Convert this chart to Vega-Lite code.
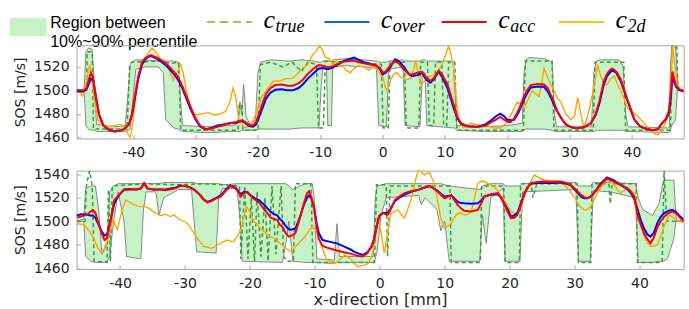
{
  "$schema": "https://vega.github.io/schema/vega-lite/v6.json",
  "padding": {"left": 9.6, "top": 0, "right": 0, "bottom": 0},
  "bounds": "flush",
  "spacing": 31.3,
  "config": {
    "font": "DejaVu Sans",
    "view": {"stroke": "#a8a8a8", "strokeWidth": 1},
    "axis": {"labelFont": "DejaVu Sans", "labelFontSize": 14, "labelColor": "#262626", "titleFont": "DejaVu Sans", "titleFontSize": 14, "titleFontWeight": "normal", "titleColor": "#262626", "domain": false, "grid": false, "tickColor": "#a8a8a8", "tickSize": -4, "labelPadding": 11.5, "labelOverlap": false, "labelExpr": "'' + datum.value", "tickCount": 20}
  },
  "datasets": {
    "legend": [
      {"item": "region", "label": ["Region between", "10%~90% percentile"]},
      {"item": "true", "c": "c", "sub": "true"},
      {"item": "over", "c": "c", "sub": "over"},
      {"item": "acc", "c": "c", "sub": "acc"},
      {"item": "2d", "c": "c", "sub": "2d"}
    ],
    "aB": [
      {"x":-49.1,"lo":1500,"hi":1500},{"x":-47.9,"lo":1500,"hi":1500},{"x":-47.6,"lo":1470,"hi":1533},{"x":-47.2,"lo":1467,"hi":1536},{"x":-46.6,"lo":1466,"hi":1535},{"x":-46.2,"lo":1466,"hi":1500},{"x":-45.9,"lo":1465,"hi":1471},{"x":-43,"lo":1465,"hi":1469},{"x":-41.3,"lo":1465,"hi":1470},{"x":-40.8,"lo":1466,"hi":1500},{"x":-40.5,"lo":1467,"hi":1522},{"x":-40.1,"lo":1490,"hi":1525},{"x":-39.6,"lo":1518,"hi":1526},{"x":-38,"lo":1520,"hi":1526},{"x":-36,"lo":1520,"hi":1525},{"x":-35.2,"lo":1515,"hi":1526},{"x":-34.8,"lo":1475,"hi":1525},{"x":-33.5,"lo":1468,"hi":1525},{"x":-32.8,"lo":1467,"hi":1524},{"x":-32.4,"lo":1466,"hi":1490},{"x":-32.1,"lo":1465,"hi":1470},{"x":-28,"lo":1464,"hi":1469},{"x":-24,"lo":1465,"hi":1470},{"x":-23.2,"lo":1465,"hi":1472},{"x":-22.9,"lo":1465,"hi":1490},{"x":-22.6,"lo":1466,"hi":1480},{"x":-22.3,"lo":1466,"hi":1505},{"x":-21.9,"lo":1466,"hi":1478},{"x":-21.2,"lo":1466,"hi":1470},{"x":-20.4,"lo":1466,"hi":1475},{"x":-20,"lo":1467,"hi":1515},{"x":-19.6,"lo":1467,"hi":1524},{"x":-18,"lo":1467,"hi":1526},{"x":-15,"lo":1467,"hi":1525},{"x":-13,"lo":1468,"hi":1526},{"x":-11,"lo":1468,"hi":1525},{"x":-10.2,"lo":1468,"hi":1524},{"x":-9.9,"lo":1500,"hi":1524},{"x":-9.6,"lo":1520,"hi":1525},{"x":-9,"lo":1520,"hi":1525},{"x":-8.8,"lo":1470,"hi":1525},{"x":-8.2,"lo":1470,"hi":1525},{"x":-8,"lo":1520,"hi":1526},{"x":-6,"lo":1521,"hi":1527},{"x":-3,"lo":1520,"hi":1526},{"x":-1,"lo":1519,"hi":1525},{"x":-0.6,"lo":1470,"hi":1524},{"x":0.6,"lo":1469,"hi":1524},{"x":1,"lo":1518,"hi":1525},{"x":3.3,"lo":1520,"hi":1526},{"x":3.6,"lo":1470,"hi":1525},{"x":6,"lo":1469,"hi":1525},{"x":6.4,"lo":1515,"hi":1526},{"x":6.8,"lo":1515,"hi":1526},{"x":7.1,"lo":1470,"hi":1525},{"x":11.3,"lo":1468,"hi":1525},{"x":11.6,"lo":1468,"hi":1500},{"x":11.9,"lo":1466,"hi":1470},{"x":16,"lo":1465,"hi":1469},{"x":20,"lo":1465,"hi":1470},{"x":22.4,"lo":1465,"hi":1472},{"x":22.7,"lo":1466,"hi":1515},{"x":23,"lo":1467,"hi":1526},{"x":23.5,"lo":1467,"hi":1528},{"x":26,"lo":1467,"hi":1527},{"x":27.2,"lo":1466,"hi":1524},{"x":27.6,"lo":1465,"hi":1480},{"x":27.9,"lo":1465,"hi":1469},{"x":33.5,"lo":1465,"hi":1469},{"x":33.9,"lo":1465,"hi":1515},{"x":34.3,"lo":1466,"hi":1525},{"x":35,"lo":1466,"hi":1526},{"x":38,"lo":1466,"hi":1526},{"x":38.6,"lo":1466,"hi":1520},{"x":39,"lo":1465,"hi":1480},{"x":39.4,"lo":1465,"hi":1469},{"x":46,"lo":1464,"hi":1468},{"x":46.2,"lo":1466,"hi":1520},{"x":46.4,"lo":1470,"hi":1538},{"x":47,"lo":1475,"hi":1537},{"x":47.3,"lo":1500,"hi":1510},{"x":47.5,"lo":1500,"hi":1500},{"x":48.3,"lo":1500,"hi":1500}
    ],
    "aT": [
      {"x":-49.1,"y":1500},{"x":-47.5,"y":1500},{"x":-47.4,"y":1533},{"x":-46.6,"y":1533},{"x":-46.4,"y":1467},{"x":-41,"y":1467},{"x":-40.6,"y":1520},{"x":-40.3,"y":1524},{"x":-36,"y":1525},{"x":-34,"y":1523},{"x":-32.7,"y":1524},{"x":-32.4,"y":1466},{"x":-23.2,"y":1466},{"x":-23,"y":1488},{"x":-22.6,"y":1488},{"x":-22.4,"y":1466},{"x":-20,"y":1466},{"x":-19.6,"y":1522},{"x":-18,"y":1524},{"x":-16,"y":1520},{"x":-14.5,"y":1524},{"x":-13,"y":1516},{"x":-12,"y":1524},{"x":-10.6,"y":1522},{"x":-10.3,"y":1468},{"x":-9.5,"y":1468},{"x":-9.2,"y":1525},{"x":-7.5,"y":1524},{"x":-5,"y":1526},{"x":-2,"y":1523},{"x":-0.2,"y":1522},{"x":0.1,"y":1468},{"x":0.9,"y":1468},{"x":1.2,"y":1524},{"x":3.5,"y":1524},{"x":3.8,"y":1468},{"x":5.8,"y":1468},{"x":6.1,"y":1524},{"x":7.2,"y":1524},{"x":7.5,"y":1470},{"x":8.2,"y":1470},{"x":8.5,"y":1524},{"x":9.5,"y":1524},{"x":9.8,"y":1470},{"x":10.3,"y":1470},{"x":10.6,"y":1524},{"x":11.6,"y":1524},{"x":11.9,"y":1466},{"x":22.6,"y":1466},{"x":22.9,"y":1525},{"x":27.2,"y":1525},{"x":27.5,"y":1466},{"x":33.8,"y":1466},{"x":34.1,"y":1524},{"x":38.7,"y":1524},{"x":39,"y":1466},{"x":46.2,"y":1466},{"x":46.4,"y":1537},{"x":47.2,"y":1537},{"x":47.4,"y":1500},{"x":48.3,"y":1500}
    ],
    "aO": [
      {"x":-49.1,"y":1499},{"x":-48,"y":1499},{"x":-47.5,"y":1501},{"x":-47.1,"y":1506},{"x":-46.8,"y":1510},{"x":-46.4,"y":1508},{"x":-46,"y":1494},{"x":-45.5,"y":1479},{"x":-44.8,"y":1470},{"x":-44,"y":1466.5},{"x":-43,"y":1465},{"x":-42.2,"y":1465.5},{"x":-41.5,"y":1467},{"x":-40.7,"y":1471},{"x":-40.2,"y":1479},{"x":-39.7,"y":1495},{"x":-39.2,"y":1510},{"x":-38.6,"y":1522},{"x":-38,"y":1527},{"x":-37.2,"y":1529.5},{"x":-36.3,"y":1527},{"x":-35.5,"y":1524.5},{"x":-34.8,"y":1521.5},{"x":-34,"y":1517},{"x":-33.2,"y":1512},{"x":-32.5,"y":1506},{"x":-32,"y":1500},{"x":-31.4,"y":1492},{"x":-30.8,"y":1484},{"x":-30,"y":1475},{"x":-29.3,"y":1469.5},{"x":-28.6,"y":1467},{"x":-28.2,"y":1467},{"x":-27.5,"y":1468},{"x":-26.5,"y":1470},{"x":-25.5,"y":1471},{"x":-24.5,"y":1472},{"x":-23.5,"y":1472.5},{"x":-22.6,"y":1474},{"x":-22,"y":1472},{"x":-21.4,"y":1469.5},{"x":-20.8,"y":1469},{"x":-20.3,"y":1471},{"x":-19.7,"y":1479},{"x":-19.2,"y":1486},{"x":-18.7,"y":1493},{"x":-18,"y":1498},{"x":-17.2,"y":1500.5},{"x":-16.2,"y":1501},{"x":-15.2,"y":1500},{"x":-14.4,"y":1500},{"x":-13.5,"y":1502},{"x":-12.8,"y":1505},{"x":-12,"y":1510},{"x":-11.2,"y":1514},{"x":-10.3,"y":1518.5},{"x":-9.6,"y":1519},{"x":-8.8,"y":1518},{"x":-8,"y":1519.5},{"x":-7,"y":1522.5},{"x":-6.2,"y":1525},{"x":-5.2,"y":1527},{"x":-4.6,"y":1528},{"x":-3.8,"y":1526},{"x":-3,"y":1524},{"x":-2,"y":1522.5},{"x":-1,"y":1521},{"x":-0.4,"y":1518},{"x":0,"y":1513.7},{"x":0.5,"y":1515},{"x":1.2,"y":1519.4},{"x":2,"y":1526.5},{"x":2.6,"y":1525},{"x":3.4,"y":1520},{"x":4.2,"y":1514},{"x":4.7,"y":1512},{"x":5.6,"y":1513},{"x":6.3,"y":1515},{"x":7,"y":1509},{"x":7.7,"y":1506.6},{"x":8.3,"y":1510},{"x":9,"y":1516},{"x":9.6,"y":1511},{"x":10.4,"y":1502},{"x":11,"y":1492},{"x":11.4,"y":1485},{"x":12,"y":1476},{"x":12.6,"y":1471.5},{"x":13.6,"y":1469.5},{"x":15.2,"y":1469},{"x":16.5,"y":1471},{"x":17.3,"y":1474},{"x":18.2,"y":1478},{"x":18.9,"y":1480.2},{"x":19.5,"y":1478},{"x":20,"y":1475},{"x":20.5,"y":1474.5},{"x":21.1,"y":1475},{"x":21.8,"y":1481},{"x":22.7,"y":1492.4},{"x":23.3,"y":1498.5},{"x":23.8,"y":1502.4},{"x":24.8,"y":1503},{"x":25.9,"y":1503},{"x":26.5,"y":1499},{"x":27,"y":1494},{"x":27.5,"y":1488},{"x":28,"y":1482.5},{"x":28.7,"y":1476},{"x":29.4,"y":1471},{"x":30.3,"y":1468.5},{"x":31.2,"y":1467.7},{"x":32.3,"y":1468.5},{"x":33.4,"y":1472},{"x":34.2,"y":1479},{"x":34.8,"y":1489},{"x":35.5,"y":1505},{"x":36,"y":1512},{"x":36.6,"y":1516},{"x":36.9,"y":1517},{"x":37.5,"y":1515},{"x":38.2,"y":1508},{"x":38.8,"y":1499},{"x":39.3,"y":1491},{"x":39.9,"y":1482},{"x":40.4,"y":1475},{"x":41.2,"y":1470},{"x":42,"y":1467.7},{"x":43.3,"y":1466},{"x":44.2,"y":1467},{"x":44.7,"y":1471},{"x":45.4,"y":1475},{"x":45.9,"y":1480},{"x":46.2,"y":1490},{"x":46.5,"y":1510.9},{"x":46.8,"y":1507},{"x":47.1,"y":1503},{"x":47.6,"y":1500.5},{"x":48.3,"y":1499}
    ],
    "aA": [
      {"x":-49.1,"y":1500},{"x":-48,"y":1500},{"x":-47.5,"y":1502},{"x":-47.1,"y":1510},{"x":-46.8,"y":1515},{"x":-46.5,"y":1512},{"x":-46,"y":1495},{"x":-45.5,"y":1480},{"x":-44.8,"y":1470},{"x":-44,"y":1467},{"x":-43,"y":1465},{"x":-42.2,"y":1465.5},{"x":-41.5,"y":1467},{"x":-40.7,"y":1471},{"x":-40.2,"y":1480},{"x":-39.7,"y":1497},{"x":-39.2,"y":1512},{"x":-38.6,"y":1524},{"x":-38,"y":1528},{"x":-37.2,"y":1530},{"x":-36.3,"y":1528},{"x":-35.5,"y":1525.5},{"x":-34.8,"y":1523},{"x":-34,"y":1519},{"x":-33.2,"y":1514},{"x":-32.5,"y":1508},{"x":-32,"y":1502},{"x":-31.4,"y":1494},{"x":-30.8,"y":1486},{"x":-30,"y":1476},{"x":-29.3,"y":1470},{"x":-28.6,"y":1467.5},{"x":-28.2,"y":1467},{"x":-27.5,"y":1467.5},{"x":-26.5,"y":1469},{"x":-25.5,"y":1470.5},{"x":-24.5,"y":1472},{"x":-23.5,"y":1473},{"x":-22.6,"y":1474.5},{"x":-22,"y":1473},{"x":-21.4,"y":1470.5},{"x":-20.8,"y":1470},{"x":-20.3,"y":1473},{"x":-19.7,"y":1482},{"x":-19.2,"y":1490},{"x":-18.7,"y":1497},{"x":-18,"y":1502},{"x":-17.2,"y":1504.5},{"x":-16.2,"y":1505},{"x":-15.2,"y":1504},{"x":-14.4,"y":1504},{"x":-13.5,"y":1506},{"x":-12.8,"y":1509},{"x":-12,"y":1514},{"x":-11.2,"y":1518},{"x":-10.3,"y":1521.5},{"x":-9.6,"y":1521},{"x":-8.8,"y":1519.5},{"x":-8,"y":1520.5},{"x":-7,"y":1523},{"x":-6.2,"y":1524.5},{"x":-5.2,"y":1525},{"x":-4.6,"y":1525.5},{"x":-3.8,"y":1524},{"x":-3,"y":1523},{"x":-2,"y":1522},{"x":-1,"y":1521},{"x":-0.4,"y":1519},{"x":0,"y":1515},{"x":0.5,"y":1516},{"x":1.2,"y":1521},{"x":2,"y":1525},{"x":2.6,"y":1523},{"x":3.4,"y":1518},{"x":4.2,"y":1514},{"x":4.8,"y":1513.5},{"x":5.6,"y":1515},{"x":6.3,"y":1516},{"x":7,"y":1511},{"x":7.7,"y":1508},{"x":8.3,"y":1511},{"x":9,"y":1517},{"x":9.6,"y":1513},{"x":10.4,"y":1505},{"x":11,"y":1495},{"x":11.4,"y":1488},{"x":12,"y":1477},{"x":12.6,"y":1472},{"x":13.6,"y":1469.5},{"x":15.2,"y":1468.8},{"x":16.5,"y":1470},{"x":17.3,"y":1472.5},{"x":18.2,"y":1475},{"x":18.9,"y":1477.3},{"x":19.5,"y":1475},{"x":20,"y":1473.5},{"x":20.5,"y":1473},{"x":21.1,"y":1476},{"x":21.8,"y":1483},{"x":22.7,"y":1495},{"x":23.3,"y":1501},{"x":23.8,"y":1504.5},{"x":24.8,"y":1505.5},{"x":25.9,"y":1505},{"x":26.5,"y":1502},{"x":27,"y":1496},{"x":27.5,"y":1490},{"x":28,"y":1482.5},{"x":28.7,"y":1476},{"x":29.4,"y":1471},{"x":30.3,"y":1468.5},{"x":31.2,"y":1467.7},{"x":32.3,"y":1468.5},{"x":33.4,"y":1472},{"x":34.2,"y":1480},{"x":34.8,"y":1491},{"x":35.5,"y":1508},{"x":36,"y":1514},{"x":36.6,"y":1518},{"x":36.9,"y":1518.6},{"x":37.5,"y":1516},{"x":38.2,"y":1509.5},{"x":38.8,"y":1500},{"x":39.3,"y":1492},{"x":39.9,"y":1483},{"x":40.4,"y":1475.3},{"x":41.2,"y":1470},{"x":42,"y":1467.7},{"x":43.3,"y":1466},{"x":44.2,"y":1467},{"x":44.7,"y":1471},{"x":45.4,"y":1475},{"x":45.9,"y":1482},{"x":46.2,"y":1496},{"x":46.5,"y":1516},{"x":46.8,"y":1510},{"x":47.1,"y":1504},{"x":47.6,"y":1501},{"x":48.3,"y":1499.5}
    ],
    "a2": [
      {"x":-49.1,"y":1500},{"x":-48.6,"y":1500},{"x":-48.2,"y":1495},{"x":-47.8,"y":1498},{"x":-47.4,"y":1512},{"x":-47,"y":1522},{"x":-46.6,"y":1510},{"x":-46.2,"y":1490},{"x":-45.7,"y":1475},{"x":-45,"y":1471},{"x":-44,"y":1469},{"x":-43,"y":1470},{"x":-42,"y":1471},{"x":-41.3,"y":1468},{"x":-40.8,"y":1462},{"x":-40.5,"y":1460},{"x":-40.2,"y":1468},{"x":-39.7,"y":1490},{"x":-39.2,"y":1512},{"x":-38.5,"y":1525},{"x":-37.8,"y":1530},{"x":-37,"y":1536},{"x":-36.4,"y":1533},{"x":-35.7,"y":1527},{"x":-35,"y":1524},{"x":-34.3,"y":1518},{"x":-33.6,"y":1509},{"x":-33,"y":1515},{"x":-32.4,"y":1522},{"x":-32,"y":1515},{"x":-31.5,"y":1500},{"x":-31,"y":1488},{"x":-30.5,"y":1481},{"x":-29.8,"y":1479},{"x":-29,"y":1480},{"x":-28,"y":1481},{"x":-27,"y":1479},{"x":-26,"y":1480},{"x":-25.2,"y":1482},{"x":-24.5,"y":1490},{"x":-24,"y":1502},{"x":-23.6,"y":1495},{"x":-23.1,"y":1476},{"x":-22.5,"y":1470},{"x":-22,"y":1468},{"x":-21.4,"y":1470},{"x":-20.8,"y":1474},{"x":-20.2,"y":1482},{"x":-19.5,"y":1494},{"x":-19,"y":1497},{"x":-18.3,"y":1503},{"x":-17.5,"y":1508},{"x":-16.5,"y":1508},{"x":-15.5,"y":1510},{"x":-14.5,"y":1510},{"x":-13.5,"y":1515},{"x":-12.8,"y":1519},{"x":-12,"y":1522},{"x":-11.3,"y":1530},{"x":-10.7,"y":1533},{"x":-10.1,"y":1538},{"x":-9.6,"y":1534},{"x":-9.2,"y":1528},{"x":-8.6,"y":1527},{"x":-8,"y":1522},{"x":-7.5,"y":1525},{"x":-7,"y":1522},{"x":-6.3,"y":1520},{"x":-5.8,"y":1517},{"x":-5.2,"y":1515},{"x":-4.5,"y":1519},{"x":-3.8,"y":1521},{"x":-3,"y":1520},{"x":-2.2,"y":1517},{"x":-1.5,"y":1520},{"x":-0.9,"y":1518},{"x":-0.4,"y":1514},{"x":0,"y":1512},{"x":0.4,"y":1503},{"x":0.7,"y":1500},{"x":1.2,"y":1508},{"x":1.8,"y":1514},{"x":2.3,"y":1515},{"x":3,"y":1511},{"x":3.8,"y":1509},{"x":4.5,"y":1510},{"x":5,"y":1518},{"x":5.3,"y":1525},{"x":5.7,"y":1515},{"x":6.1,"y":1505},{"x":6.8,"y":1508},{"x":7.5,"y":1512},{"x":8.2,"y":1513},{"x":8.8,"y":1515},{"x":9.5,"y":1522},{"x":10.1,"y":1530},{"x":10.6,"y":1538},{"x":11,"y":1530},{"x":11.4,"y":1520},{"x":11.8,"y":1495},{"x":12.2,"y":1475},{"x":13,"y":1468},{"x":14.1,"y":1472},{"x":15,"y":1471},{"x":16,"y":1470},{"x":16.8,"y":1470},{"x":17.8,"y":1468},{"x":18.9,"y":1468},{"x":19.8,"y":1472},{"x":20.5,"y":1478},{"x":21.1,"y":1485},{"x":21.6,"y":1490},{"x":22.2,"y":1488},{"x":22.7,"y":1485},{"x":23.4,"y":1493},{"x":24,"y":1500},{"x":24.6,"y":1497},{"x":25.1,"y":1495},{"x":25.5,"y":1505},{"x":25.9,"y":1519},{"x":26.4,"y":1512},{"x":27,"y":1505},{"x":27.5,"y":1500},{"x":28,"y":1494},{"x":28.6,"y":1490},{"x":29.4,"y":1480},{"x":30.2,"y":1475},{"x":30.8,"y":1478},{"x":31.3,"y":1494},{"x":31.8,"y":1480},{"x":32.3,"y":1468},{"x":33,"y":1480},{"x":33.6,"y":1495},{"x":34,"y":1505},{"x":34.5,"y":1522},{"x":35,"y":1512},{"x":35.6,"y":1505},{"x":36,"y":1505},{"x":36.6,"y":1510},{"x":37.2,"y":1512},{"x":37.7,"y":1505},{"x":38.2,"y":1500},{"x":38.8,"y":1492},{"x":39.3,"y":1485},{"x":39.8,"y":1483},{"x":40.4,"y":1480},{"x":41,"y":1478},{"x":41.4,"y":1475},{"x":42,"y":1472},{"x":42.5,"y":1468},{"x":43.3,"y":1464},{"x":44.1,"y":1462},{"x":44.7,"y":1465},{"x":45.2,"y":1470},{"x":45.6,"y":1475},{"x":46,"y":1480},{"x":46.2,"y":1500},{"x":46.5,"y":1538},{"x":46.8,"y":1525},{"x":47.3,"y":1505},{"x":47.8,"y":1500},{"x":48.3,"y":1500}
    ],
    "bB": [
      {"x":-46.7,"lo":1500,"hi":1500},{"x":-45.6,"lo":1500,"hi":1502},{"x":-45.3,"lo":1470,"hi":1528},{"x":-44.5,"lo":1466,"hi":1530},{"x":-43.8,"lo":1465,"hi":1530},{"x":-43.3,"lo":1465,"hi":1510},{"x":-42.8,"lo":1465,"hi":1472},{"x":-42,"lo":1466,"hi":1480},{"x":-41.6,"lo":1470,"hi":1525},{"x":-41,"lo":1500,"hi":1530},{"x":-40.3,"lo":1525,"hi":1532},{"x":-39.4,"lo":1500,"hi":1532},{"x":-39,"lo":1470,"hi":1532},{"x":-36.8,"lo":1468,"hi":1532},{"x":-36.4,"lo":1510,"hi":1532},{"x":-36,"lo":1525,"hi":1532},{"x":-34.5,"lo":1525,"hi":1532},{"x":-34,"lo":1505,"hi":1532},{"x":-33.3,"lo":1520,"hi":1533},{"x":-31,"lo":1527,"hi":1533},{"x":-29,"lo":1527,"hi":1533},{"x":-28.6,"lo":1500,"hi":1533},{"x":-28.2,"lo":1474,"hi":1532},{"x":-25.2,"lo":1473,"hi":1532},{"x":-24.8,"lo":1520,"hi":1532},{"x":-24.2,"lo":1528,"hi":1531},{"x":-22,"lo":1528,"hi":1532},{"x":-21.5,"lo":1500,"hi":1532},{"x":-21.2,"lo":1466,"hi":1532},{"x":-15,"lo":1465,"hi":1532},{"x":-14.5,"lo":1480,"hi":1532},{"x":-14,"lo":1500,"hi":1530},{"x":-13.4,"lo":1466,"hi":1527},{"x":-11.5,"lo":1465,"hi":1532},{"x":-10.4,"lo":1465,"hi":1532},{"x":-10.1,"lo":1465,"hi":1520},{"x":-9.7,"lo":1465,"hi":1468},{"x":-7,"lo":1464,"hi":1467},{"x":-6.6,"lo":1465,"hi":1498},{"x":-6.2,"lo":1465,"hi":1470},{"x":-1,"lo":1465,"hi":1470},{"x":-0.7,"lo":1468,"hi":1520},{"x":-0.4,"lo":1475,"hi":1530},{"x":0.2,"lo":1505,"hi":1531},{"x":1,"lo":1520,"hi":1532},{"x":6,"lo":1522,"hi":1532},{"x":6.4,"lo":1514,"hi":1532},{"x":7,"lo":1520,"hi":1532},{"x":8.8,"lo":1510,"hi":1532},{"x":9.4,"lo":1492,"hi":1532},{"x":10,"lo":1500,"hi":1531},{"x":10.7,"lo":1466,"hi":1530},{"x":15.4,"lo":1466,"hi":1527},{"x":15.8,"lo":1505,"hi":1530},{"x":16.4,"lo":1481,"hi":1531},{"x":17.1,"lo":1520,"hi":1532},{"x":19,"lo":1528,"hi":1532},{"x":19.3,"lo":1466,"hi":1530},{"x":21.6,"lo":1466,"hi":1530},{"x":22,"lo":1525,"hi":1532},{"x":30.2,"lo":1527,"hi":1533},{"x":30.6,"lo":1466,"hi":1530},{"x":32.4,"lo":1466,"hi":1530},{"x":32.9,"lo":1526,"hi":1533},{"x":35.5,"lo":1525,"hi":1533},{"x":39.4,"lo":1520,"hi":1532},{"x":39.8,"lo":1465,"hi":1520},{"x":40.5,"lo":1465,"hi":1510},{"x":42,"lo":1465,"hi":1505},{"x":43,"lo":1466,"hi":1515},{"x":43.7,"lo":1466,"hi":1535},{"x":44.3,"lo":1468,"hi":1535},{"x":45.3,"lo":1485,"hi":1535},{"x":45.6,"lo":1500,"hi":1505},{"x":45.8,"lo":1500,"hi":1500},{"x":46.8,"lo":1500,"hi":1500}
    ],
    "bT": [
      {"x":-46.7,"y":1500},{"x":-45.4,"y":1500},{"x":-45.2,"y":1530},{"x":-44.7,"y":1543},{"x":-44.3,"y":1530},{"x":-44,"y":1466},{"x":-42,"y":1465},{"x":-41.8,"y":1527},{"x":-41.5,"y":1466},{"x":-41.2,"y":1530},{"x":-36,"y":1532},{"x":-31,"y":1531},{"x":-27,"y":1532},{"x":-24,"y":1531},{"x":-21.6,"y":1530},{"x":-21.4,"y":1468},{"x":-20.8,"y":1530},{"x":-20.3,"y":1468},{"x":-19.8,"y":1520},{"x":-19.3,"y":1466},{"x":-18.9,"y":1525},{"x":-18.3,"y":1470},{"x":-17.7,"y":1520},{"x":-17.2,"y":1466},{"x":-16.6,"y":1530},{"x":-16,"y":1472},{"x":-15.2,"y":1530},{"x":-14.8,"y":1470},{"x":-14.3,"y":1466},{"x":-13.3,"y":1466},{"x":-13,"y":1532},{"x":-10.6,"y":1532},{"x":-10.3,"y":1465},{"x":-0.8,"y":1465},{"x":-0.5,"y":1531},{"x":1,"y":1531},{"x":1.2,"y":1470},{"x":1.6,"y":1530},{"x":10.8,"y":1530},{"x":11,"y":1465},{"x":15.5,"y":1465},{"x":15.7,"y":1530},{"x":19.1,"y":1530},{"x":19.3,"y":1465},{"x":21.5,"y":1465},{"x":21.7,"y":1532},{"x":23.3,"y":1532},{"x":23.6,"y":1520},{"x":24.2,"y":1532},{"x":30.4,"y":1532},{"x":30.6,"y":1465},{"x":32.5,"y":1465},{"x":32.7,"y":1532},{"x":35.3,"y":1532},{"x":35.5,"y":1515},{"x":35.8,"y":1532},{"x":39.5,"y":1532},{"x":39.7,"y":1465},{"x":43.5,"y":1465},{"x":43.8,"y":1543},{"x":44.2,"y":1500},{"x":46.8,"y":1500}
    ],
    "bO": [
      {"x":-46.7,"y":1505},{"x":-46,"y":1506},{"x":-45,"y":1505.5},{"x":-44.6,"y":1505},{"x":-44.2,"y":1505},{"x":-43.8,"y":1503},{"x":-43.3,"y":1497},{"x":-42.8,"y":1491},{"x":-42.4,"y":1488},{"x":-42,"y":1489},{"x":-41.5,"y":1500},{"x":-40.9,"y":1515},{"x":-40.4,"y":1520},{"x":-39.9,"y":1524},{"x":-39.4,"y":1527},{"x":-38.5,"y":1527.5},{"x":-37.5,"y":1527},{"x":-36.8,"y":1528},{"x":-36.3,"y":1532.5},{"x":-35.8,"y":1528},{"x":-35,"y":1527},{"x":-34,"y":1527},{"x":-33,"y":1527},{"x":-32,"y":1528},{"x":-31.5,"y":1528.5},{"x":-30.7,"y":1530.5},{"x":-30,"y":1530},{"x":-29.3,"y":1529},{"x":-28.6,"y":1527},{"x":-27.8,"y":1523},{"x":-27.2,"y":1519},{"x":-26.6,"y":1516.5},{"x":-26,"y":1517.5},{"x":-25.2,"y":1520},{"x":-24.5,"y":1522},{"x":-23.7,"y":1527},{"x":-23,"y":1530.5},{"x":-22.2,"y":1528.5},{"x":-21.7,"y":1525},{"x":-21.4,"y":1523},{"x":-20.9,"y":1525},{"x":-20.4,"y":1524.5},{"x":-19.9,"y":1522},{"x":-19.6,"y":1521},{"x":-19.1,"y":1519},{"x":-18.6,"y":1518},{"x":-18.2,"y":1516},{"x":-17.8,"y":1514},{"x":-17.3,"y":1511},{"x":-16.8,"y":1508},{"x":-16.3,"y":1506},{"x":-15.8,"y":1505},{"x":-15.4,"y":1502},{"x":-15,"y":1500},{"x":-14.5,"y":1496},{"x":-14,"y":1493},{"x":-13.5,"y":1493},{"x":-13,"y":1494},{"x":-12.6,"y":1499},{"x":-12.2,"y":1505},{"x":-11.7,"y":1514},{"x":-11.2,"y":1520},{"x":-10.9,"y":1522},{"x":-10.5,"y":1519},{"x":-10.1,"y":1511},{"x":-9.7,"y":1498},{"x":-9.4,"y":1490},{"x":-8.8,"y":1484},{"x":-7.8,"y":1482.7},{"x":-6.5,"y":1481},{"x":-5.3,"y":1478},{"x":-4.5,"y":1476},{"x":-3.9,"y":1474},{"x":-3.2,"y":1472.5},{"x":-2.6,"y":1471.4},{"x":-1.9,"y":1473.5},{"x":-1.3,"y":1478},{"x":-0.9,"y":1484},{"x":-0.56,"y":1493},{"x":-0.2,"y":1502},{"x":0,"y":1505},{"x":0.5,"y":1507},{"x":0.9,"y":1507},{"x":1.2,"y":1507},{"x":1.7,"y":1511},{"x":2.3,"y":1517},{"x":3,"y":1520},{"x":3.8,"y":1522.5},{"x":4.8,"y":1525},{"x":5.9,"y":1526.7},{"x":6.8,"y":1528.5},{"x":7.7,"y":1530},{"x":8.3,"y":1528},{"x":8.9,"y":1526},{"x":9.5,"y":1523},{"x":10,"y":1521},{"x":10.5,"y":1521.5},{"x":11,"y":1522},{"x":11.5,"y":1519.5},{"x":12,"y":1516.7},{"x":12.5,"y":1515.5},{"x":13,"y":1515.3},{"x":14.1,"y":1515},{"x":15.1,"y":1515.3},{"x":15.6,"y":1517.5},{"x":16.1,"y":1521},{"x":17.1,"y":1522.5},{"x":18.2,"y":1523},{"x":18.7,"y":1520},{"x":19.2,"y":1515},{"x":19.7,"y":1510},{"x":20.2,"y":1504},{"x":20.7,"y":1505},{"x":21.2,"y":1507},{"x":21.8,"y":1516},{"x":22.3,"y":1524},{"x":22.8,"y":1529},{"x":23.3,"y":1532},{"x":24.3,"y":1532.5},{"x":25.3,"y":1532.5},{"x":26.5,"y":1532.5},{"x":27.9,"y":1533},{"x":28.7,"y":1532},{"x":29.4,"y":1530.5},{"x":30.2,"y":1526},{"x":31,"y":1521},{"x":31.5,"y":1519.5},{"x":32,"y":1519.6},{"x":32.5,"y":1521},{"x":33,"y":1524},{"x":34,"y":1532},{"x":35,"y":1537.2},{"x":36,"y":1535},{"x":37.1,"y":1531},{"x":38.2,"y":1527},{"x":38.7,"y":1524},{"x":39.2,"y":1519},{"x":39.7,"y":1509.7},{"x":40.2,"y":1501},{"x":40.7,"y":1494},{"x":41.2,"y":1489},{"x":41.7,"y":1487},{"x":42.2,"y":1490},{"x":42.8,"y":1499},{"x":43.3,"y":1504},{"x":43.8,"y":1507},{"x":44.5,"y":1509},{"x":45.1,"y":1509.7},{"x":45.6,"y":1508},{"x":46.1,"y":1505},{"x":46.8,"y":1501.5}
    ],
    "bA": [
      {"x":-46.7,"y":1503},{"x":-46,"y":1504},{"x":-45,"y":1506},{"x":-44.6,"y":1508},{"x":-44.2,"y":1509.7},{"x":-43.8,"y":1507},{"x":-43.3,"y":1498},{"x":-42.8,"y":1489},{"x":-42.4,"y":1484},{"x":-42,"y":1486},{"x":-41.5,"y":1500},{"x":-40.9,"y":1518},{"x":-40.4,"y":1521},{"x":-39.9,"y":1524},{"x":-39.4,"y":1526.7},{"x":-38.5,"y":1527},{"x":-37.5,"y":1527},{"x":-36.8,"y":1528},{"x":-36.3,"y":1532},{"x":-35.8,"y":1528},{"x":-35,"y":1527},{"x":-34,"y":1527},{"x":-33,"y":1526.5},{"x":-32,"y":1527.5},{"x":-31.5,"y":1528},{"x":-30.7,"y":1530},{"x":-30,"y":1530},{"x":-29.3,"y":1529},{"x":-28.6,"y":1527},{"x":-27.8,"y":1523},{"x":-27.2,"y":1519},{"x":-26.6,"y":1516},{"x":-26,"y":1517},{"x":-25.2,"y":1519.5},{"x":-24.5,"y":1521},{"x":-23.7,"y":1526},{"x":-23,"y":1530},{"x":-22.2,"y":1528},{"x":-21.7,"y":1524},{"x":-21.4,"y":1521},{"x":-20.9,"y":1524},{"x":-20.4,"y":1525},{"x":-19.9,"y":1522},{"x":-19.6,"y":1520},{"x":-19.1,"y":1518},{"x":-18.6,"y":1516},{"x":-18.2,"y":1513},{"x":-17.8,"y":1510},{"x":-17.3,"y":1507},{"x":-16.8,"y":1503},{"x":-16.3,"y":1502},{"x":-15.8,"y":1501},{"x":-15.4,"y":1497},{"x":-15,"y":1495.5},{"x":-14.5,"y":1490},{"x":-14,"y":1487},{"x":-13.5,"y":1488},{"x":-13,"y":1490},{"x":-12.6,"y":1497},{"x":-12.2,"y":1505},{"x":-11.7,"y":1515},{"x":-11.2,"y":1524},{"x":-10.9,"y":1525.6},{"x":-10.5,"y":1520},{"x":-10.1,"y":1510},{"x":-9.7,"y":1495},{"x":-9.4,"y":1485},{"x":-8.8,"y":1479},{"x":-7.8,"y":1477},{"x":-6.5,"y":1475},{"x":-5.3,"y":1473.5},{"x":-4.5,"y":1472.5},{"x":-3.9,"y":1471.4},{"x":-3.2,"y":1470.5},{"x":-2.6,"y":1470},{"x":-1.9,"y":1473},{"x":-1.3,"y":1478.5},{"x":-0.9,"y":1485},{"x":-0.56,"y":1494},{"x":-0.2,"y":1502},{"x":0,"y":1505.4},{"x":0.5,"y":1507},{"x":0.9,"y":1506},{"x":1.2,"y":1505.5},{"x":1.7,"y":1510},{"x":2.3,"y":1518},{"x":3,"y":1521},{"x":3.8,"y":1524},{"x":4.8,"y":1525.5},{"x":5.9,"y":1526.7},{"x":6.8,"y":1528.5},{"x":7.7,"y":1530},{"x":8.3,"y":1528},{"x":8.9,"y":1525.3},{"x":9.5,"y":1522},{"x":10,"y":1519.6},{"x":10.5,"y":1521},{"x":11,"y":1522.4},{"x":11.5,"y":1518},{"x":12,"y":1514},{"x":12.5,"y":1511},{"x":13,"y":1509},{"x":14.1,"y":1508.3},{"x":15.1,"y":1509.7},{"x":15.6,"y":1515},{"x":16.1,"y":1521},{"x":17.1,"y":1523},{"x":18.2,"y":1524},{"x":18.7,"y":1520},{"x":19.2,"y":1514},{"x":19.7,"y":1508},{"x":20.2,"y":1502.6},{"x":20.7,"y":1503},{"x":21.2,"y":1505.4},{"x":21.8,"y":1515},{"x":22.3,"y":1524},{"x":22.8,"y":1529},{"x":23.3,"y":1532.4},{"x":24.3,"y":1533.5},{"x":25.3,"y":1533.8},{"x":26.5,"y":1533.5},{"x":27.9,"y":1533.8},{"x":28.7,"y":1532.5},{"x":29.4,"y":1531},{"x":30.2,"y":1527},{"x":31,"y":1522.4},{"x":31.5,"y":1520.5},{"x":32,"y":1519.6},{"x":32.5,"y":1521},{"x":33,"y":1524},{"x":34,"y":1531},{"x":35,"y":1536.6},{"x":36,"y":1534},{"x":37.1,"y":1531},{"x":38.2,"y":1528},{"x":38.7,"y":1525},{"x":39.2,"y":1521},{"x":39.7,"y":1505.4},{"x":40.2,"y":1497},{"x":40.7,"y":1489.8},{"x":41.2,"y":1485},{"x":41.7,"y":1481.3},{"x":42.2,"y":1486},{"x":42.8,"y":1495.5},{"x":43.3,"y":1500},{"x":43.8,"y":1504},{"x":44.5,"y":1507},{"x":45.1,"y":1508.3},{"x":45.6,"y":1507},{"x":46.1,"y":1504},{"x":46.8,"y":1500}
    ],
    "b2": [
      {"x":-46.7,"y":1498},{"x":-46,"y":1497.5},{"x":-45.5,"y":1497},{"x":-44.8,"y":1492},{"x":-44,"y":1485},{"x":-43.5,"y":1478},{"x":-43,"y":1474},{"x":-42.5,"y":1476},{"x":-41.9,"y":1485},{"x":-41.4,"y":1495},{"x":-41.1,"y":1502},{"x":-40.7,"y":1496},{"x":-40.4,"y":1493},{"x":-39.9,"y":1505},{"x":-39.4,"y":1514},{"x":-39.1,"y":1518},{"x":-38.5,"y":1516},{"x":-37.8,"y":1514},{"x":-37,"y":1512.5},{"x":-36.3,"y":1513},{"x":-35.5,"y":1511},{"x":-34.8,"y":1508},{"x":-34.2,"y":1506},{"x":-33.7,"y":1505},{"x":-33,"y":1506},{"x":-32.3,"y":1504},{"x":-31.7,"y":1505.4},{"x":-31.2,"y":1503},{"x":-30.7,"y":1501},{"x":-30.1,"y":1500},{"x":-29.6,"y":1498},{"x":-29.1,"y":1494},{"x":-28.6,"y":1489.8},{"x":-27.9,"y":1484},{"x":-27.1,"y":1478.5},{"x":-26.5,"y":1478},{"x":-26,"y":1477},{"x":-25.5,"y":1478},{"x":-25,"y":1480},{"x":-24.3,"y":1482},{"x":-23.5,"y":1484},{"x":-23,"y":1483},{"x":-22.5,"y":1482.6},{"x":-22,"y":1487},{"x":-21.4,"y":1492.6},{"x":-21,"y":1502},{"x":-20.6,"y":1512.5},{"x":-20.2,"y":1510},{"x":-19.9,"y":1507},{"x":-19.4,"y":1500},{"x":-18.9,"y":1497},{"x":-18.4,"y":1494},{"x":-17.8,"y":1491},{"x":-17.3,"y":1488.4},{"x":-16.8,"y":1487},{"x":-16.3,"y":1485.6},{"x":-15.5,"y":1482},{"x":-14.8,"y":1478.5},{"x":-14.2,"y":1476},{"x":-13.7,"y":1474},{"x":-13.2,"y":1477},{"x":-12.7,"y":1480},{"x":-12.2,"y":1483},{"x":-11.7,"y":1485.6},{"x":-11,"y":1491},{"x":-10.4,"y":1495.5},{"x":-10,"y":1493},{"x":-9.6,"y":1490},{"x":-9.1,"y":1482},{"x":-8.6,"y":1473},{"x":-8.2,"y":1468},{"x":-7.8,"y":1465.7},{"x":-7.1,"y":1464},{"x":-6.4,"y":1466},{"x":-5.4,"y":1471.4},{"x":-4.5,"y":1468},{"x":-3.9,"y":1464},{"x":-3.4,"y":1461.4},{"x":-2.6,"y":1462.5},{"x":-1.8,"y":1464},{"x":-1.3,"y":1470},{"x":-0.8,"y":1481},{"x":-0.3,"y":1504},{"x":0.2,"y":1489.8},{"x":0.7,"y":1472.8},{"x":1.2,"y":1490},{"x":1.7,"y":1506.8},{"x":2.2,"y":1508},{"x":2.8,"y":1509.7},{"x":3.3,"y":1506},{"x":3.8,"y":1502.6},{"x":4.3,"y":1510},{"x":4.8,"y":1518},{"x":5.3,"y":1530},{"x":5.9,"y":1543.7},{"x":6.4,"y":1542},{"x":6.9,"y":1539.5},{"x":7.3,"y":1541},{"x":7.7,"y":1541},{"x":8,"y":1537},{"x":8.4,"y":1532.4},{"x":8.9,"y":1518},{"x":9.4,"y":1502.6},{"x":10,"y":1494},{"x":10.5,"y":1496},{"x":11,"y":1498.3},{"x":11.5,"y":1503},{"x":12,"y":1506.8},{"x":12.5,"y":1507},{"x":13,"y":1505.4},{"x":13.5,"y":1506},{"x":14.1,"y":1508.3},{"x":14.6,"y":1520},{"x":15.1,"y":1532.4},{"x":15.6,"y":1534},{"x":16.1,"y":1533.8},{"x":16.8,"y":1532},{"x":17.6,"y":1529.5},{"x":18.4,"y":1524},{"x":19.2,"y":1518},{"x":19.7,"y":1513},{"x":20.2,"y":1508.3},{"x":20.7,"y":1507},{"x":21.2,"y":1507},{"x":21.8,"y":1515},{"x":22.5,"y":1524},{"x":23.2,"y":1533},{"x":23.8,"y":1539.5},{"x":24.5,"y":1537},{"x":25.3,"y":1535.2},{"x":26.5,"y":1534.5},{"x":27.9,"y":1533.8},{"x":28.6,"y":1530},{"x":29.4,"y":1525.3},{"x":30,"y":1520},{"x":30.5,"y":1515.3},{"x":31,"y":1512},{"x":31.5,"y":1509.7},{"x":32,"y":1510},{"x":32.5,"y":1512.5},{"x":33,"y":1518},{"x":33.5,"y":1524},{"x":34.2,"y":1530},{"x":35,"y":1535.2},{"x":35.5,"y":1534},{"x":36.1,"y":1531},{"x":36.6,"y":1527},{"x":37.1,"y":1524},{"x":37.6,"y":1526},{"x":38.2,"y":1528.3},{"x":38.7,"y":1526},{"x":39.2,"y":1524},{"x":39.6,"y":1515},{"x":40,"y":1506.8},{"x":40.4,"y":1496},{"x":40.7,"y":1487},{"x":41.2,"y":1482},{"x":41.7,"y":1478.5},{"x":42.2,"y":1479},{"x":42.8,"y":1480},{"x":43.3,"y":1488},{"x":43.8,"y":1495.5},{"x":44.2,"y":1501},{"x":44.6,"y":1505.4},{"x":45,"y":1504},{"x":45.3,"y":1502.6},{"x":46.1,"y":1500},{"x":46.8,"y":1499}
    ]
  },
  "vconcat": [
    {
      "width": 607, "height": 13.2,
      "view": {"stroke": null, "fill": "white"},
      "data": {"name": "legend"},
      "encoding": {"x": {"field": "item", "type": "nominal", "scale": {"type": "point", "padding": 0, "domain": ["region", "true", "over", "acc", "2d"], "range": [35.6, 504.9]}, "axis": null}},
      "layer": [
        {"transform": [{"filter": "datum.item === 'region'"}], "mark": {"type": "point", "shape": "M-1,-0.5H1V0.5H-1Z", "size": 1369, "filled": true, "fill": "#c6f2c6", "opacity": 1, "strokeWidth": 0, "xOffset": -84, "yOffset": 20.4}},
        {"transform": [{"filter": "datum.item === 'region'"}], "mark": {"type": "text", "align": "left", "baseline": "middle", "font": "Liberation Sans", "fontSize": 16, "lineHeight": 19, "color": "#000000", "dx": -62, "dy": 16}, "encoding": {"text": {"field": "label"}}},
        {"transform": [{"filter": "datum.item !== 'region'"}], "mark": {"type": "point", "shape": "stroke", "size": 2025, "filled": false, "strokeWidth": 2.2, "opacity": 1, "yOffset": 15.4}, "encoding": {"stroke": {"field": "item", "type": "nominal", "scale": {"domain": ["true", "over", "acc", "2d"], "range": ["#92d050", "#0070c0", "#ff0000", "#ffc000"]}, "legend": null}, "strokeDash": {"field": "item", "type": "nominal", "scale": {"domain": ["true", "over", "acc", "2d"], "range": [[8, 5], [1, 0], [1, 0], [1, 0]]}, "legend": null}}},
        {"transform": [{"filter": "datum.item !== 'region'"}], "mark": {"type": "text", "align": "left", "baseline": "alphabetic", "font": "Liberation Serif", "fontStyle": "italic", "fontSize": 26, "color": "#000000", "dx": 34, "dy": 21.7}, "encoding": {"text": {"field": "c"}}},
        {"transform": [{"filter": "datum.item !== 'region'"}], "mark": {"type": "text", "align": "left", "baseline": "alphabetic", "font": "Liberation Serif", "fontStyle": "italic", "fontSize": 18, "color": "#000000", "dx": 46, "dy": 25}, "encoding": {"text": {"field": "sub"}}}
      ]
    },
    {
      "width": 607, "height": 93.2,
      "encoding": {
        "x": {"field": "x", "type": "quantitative", "scale": {"domain": [-49.1, 48.3], "nice": false, "zero": false}, "axis": {"values": [-40, -30, -20, -10, 0, 10, 20, 30, 40], "tickCount": 20, "title": null, "labelOverlap": false}}
      },
      "layer": [
        {"data": {"name": "aB"}, "mark": {"type": "area", "fill": "#c6f2c6", "opacity": 1, "clip": true}, "encoding": {"y": {"field": "hi", "type": "quantitative", "scale": {"domain": [1459, 1538.4], "nice": false, "zero": false}, "axis": {"values": [1460, 1480, 1500, 1520], "tickCount": 20, "title": "SOS [m/s]", "titlePadding": 6, "labelOverlap": false}}, "y2": {"field": "lo"}}},
        {"data": {"name": "aB"}, "mark": {"type": "line", "stroke": "#6e6e6e", "strokeWidth": 0.8, "clip": true}, "encoding": {"y": {"field": "lo", "type": "quantitative"}}},
        {"data": {"name": "aB"}, "mark": {"type": "line", "stroke": "#6e6e6e", "strokeWidth": 0.8, "clip": true}, "encoding": {"y": {"field": "hi", "type": "quantitative"}}},
        {"data": {"name": "aT"}, "mark": {"type": "line", "stroke": "#3b9b3b", "strokeWidth": 1.5, "strokeDash": [4, 3], "clip": true}, "encoding": {"y": {"field": "y", "type": "quantitative"}}},
        {"data": {"name": "a2"}, "mark": {"type": "line", "stroke": "#ffa500", "strokeWidth": 1.4, "clip": true}, "encoding": {"y": {"field": "y", "type": "quantitative"}}},
        {"data": {"name": "aO"}, "mark": {"type": "line", "stroke": "#0000ff", "strokeWidth": 2, "clip": true}, "encoding": {"y": {"field": "y", "type": "quantitative"}}},
        {"data": {"name": "aA"}, "mark": {"type": "line", "stroke": "#ff0000", "strokeWidth": 2, "clip": true}, "encoding": {"y": {"field": "y", "type": "quantitative"}}},
        {"data": {"values": [{"t": "(a)"}]}, "mark": {"type": "text", "align": "left", "baseline": "middle", "fontSize": 14, "color": "#262626"}, "encoding": {"x": {"datum": -48.9}, "y": {"datum": 1466.2}, "text": {"field": "t"}}}
      ]
    },
    {
      "width": 607, "height": 98.3,
      "encoding": {
        "x": {"field": "x", "type": "quantitative", "scale": {"domain": [-46.7, 46.8], "nice": false, "zero": false}, "axis": {"values": [-40, -30, -20, -10, 0, 10, 20, 30, 40], "tickCount": 20, "title": "x-direction [mm]", "titleFontSize": 16, "titlePadding": 1, "labelOverlap": false}}
      },
      "layer": [
        {"data": {"name": "bB"}, "mark": {"type": "area", "fill": "#c6f2c6", "opacity": 1, "clip": true}, "encoding": {"y": {"field": "hi", "type": "quantitative", "scale": {"domain": [1459.5, 1543.1], "nice": false, "zero": false}, "axis": {"values": [1460, 1480, 1500, 1520, 1540], "tickCount": 20, "title": "SOS [m/s]", "titlePadding": 6, "labelOverlap": false}}, "y2": {"field": "lo"}}},
        {"data": {"name": "bB"}, "mark": {"type": "line", "stroke": "#6e6e6e", "strokeWidth": 0.8, "clip": true}, "encoding": {"y": {"field": "lo", "type": "quantitative"}}},
        {"data": {"name": "bB"}, "mark": {"type": "line", "stroke": "#6e6e6e", "strokeWidth": 0.8, "clip": true}, "encoding": {"y": {"field": "hi", "type": "quantitative"}}},
        {"data": {"name": "bT"}, "mark": {"type": "line", "stroke": "#3b9b3b", "strokeWidth": 1.5, "strokeDash": [4, 3], "clip": true}, "encoding": {"y": {"field": "y", "type": "quantitative"}}},
        {"data": {"name": "b2"}, "mark": {"type": "line", "stroke": "#ffa500", "strokeWidth": 1.4, "clip": true}, "encoding": {"y": {"field": "y", "type": "quantitative"}}},
        {"data": {"name": "bO"}, "mark": {"type": "line", "stroke": "#0000ff", "strokeWidth": 2, "clip": true}, "encoding": {"y": {"field": "y", "type": "quantitative"}}},
        {"data": {"name": "bA"}, "mark": {"type": "line", "stroke": "#ff0000", "strokeWidth": 2, "clip": true}, "encoding": {"y": {"field": "y", "type": "quantitative"}}},
        {"data": {"values": [{"t": "(b)"}]}, "mark": {"type": "text", "align": "left", "baseline": "middle", "fontSize": 14, "color": "#262626"}, "encoding": {"x": {"datum": -46.5}, "y": {"datum": 1467.4}, "text": {"field": "t"}}}
      ]
    }
  ]
}
